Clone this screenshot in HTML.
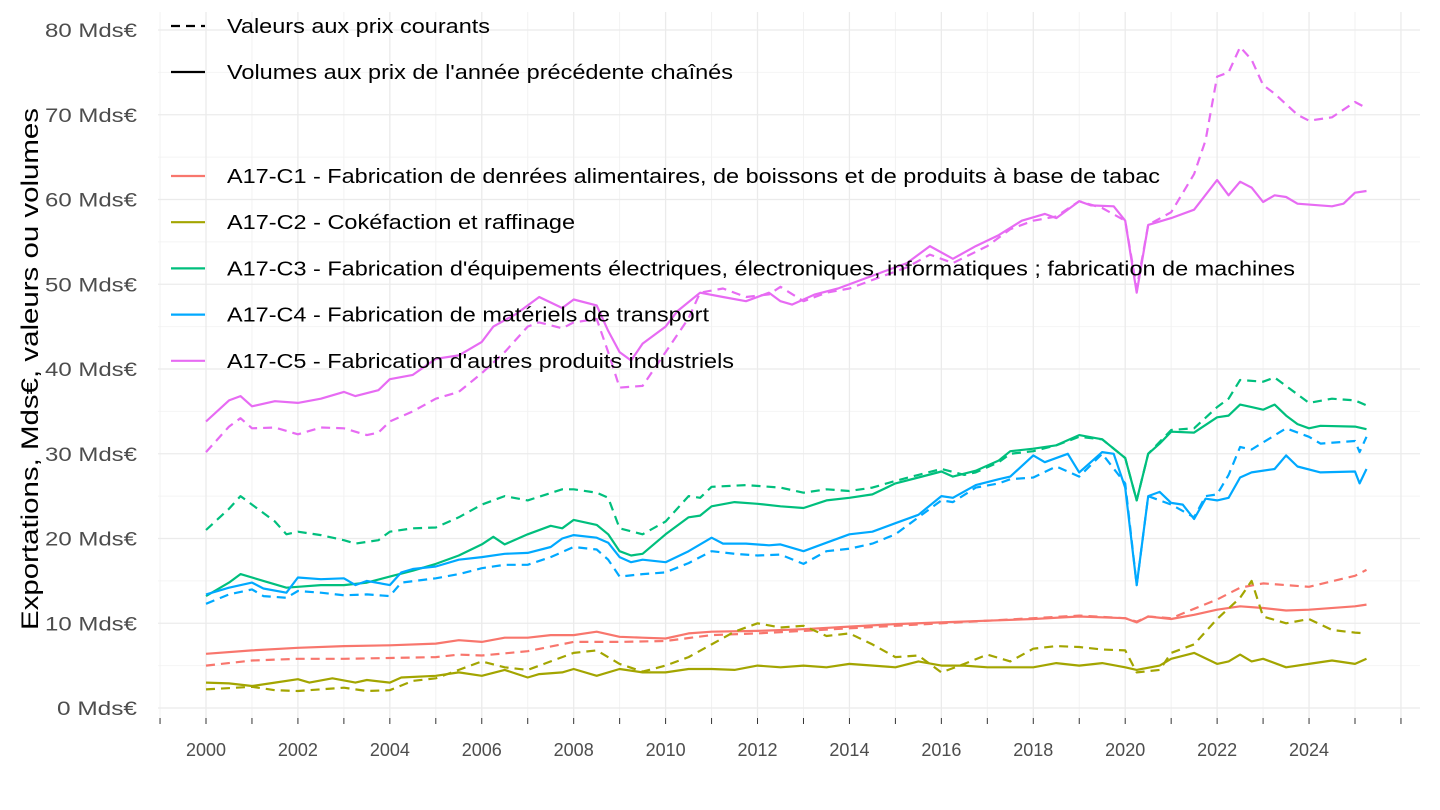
<!DOCTYPE html>
<html><head><meta charset="utf-8"><style>
html,body{margin:0;padding:0;background:#fff;}
svg{display:block;font-family:"Liberation Sans",sans-serif;}
</style></head><body>
<svg id="s" width="1440" height="810" xmlns="http://www.w3.org/2000/svg"></svg>
<script>
const s=document.getElementById('s');
const X=y=>206+(y-2000)*45.96, Y=v=>708-v*8.475;
let h='';
for(let v=5;v<=75;v+=10) h+=`<line x1="158" x2="1420" y1="${Y(v)}" y2="${Y(v)}" stroke="#f4f4f4" stroke-width="1"/>`;
for(let y=1999;y<=2026;y++){const x=X(y);if(x<158||x>1420)continue;h+=`<line x1="${x}" x2="${x}" y1="12" y2="718" stroke="${y%2==0?'#ebebeb':'#f2f2f2'}" stroke-width="${y%2==0?1.3:1}"/>`;}
for(let v=0;v<=80;v+=10) h+=`<line x1="158" x2="1420" y1="${Y(v)}" y2="${Y(v)}" stroke="#ebebeb" stroke-width="1.3"/>`;
for(let y=1999;y<=2026;y++){const x=X(y);if(x<158||x>1420)continue;h+=`<line x1="${x}" x2="${x}" y1="718" y2="724" stroke="#333" stroke-width="1"/>`;}
for(let v=0;v<=80;v+=10) h+=`<text x="137" y="${Y(v)+7}" text-anchor="end" font-size="19" fill="#4d4d4d" textLength="${v==0?80:92}" lengthAdjust="spacingAndGlyphs">${v} Mds€</text>`;
for(let y=2000;y<=2024;y+=2) h+=`<text x="${X(y)}" y="756" text-anchor="middle" font-size="18" fill="#4d4d4d">${y}</text>`;
h+=`<text transform="translate(38,369) rotate(-90)" text-anchor="middle" font-size="24" fill="#000" textLength="522" lengthAdjust="spacingAndGlyphs">Exportations, Mds€, valeurs ou volumes</text>`;
const P=(d,c,dash)=>{const a=[];for(let i=0;i<d.length;i+=2)a.push(X(d[i]).toFixed(1)+','+Y(d[i+1]).toFixed(1));h+=`<polyline points="${a.join(' ')}" fill="none" stroke="${c}" stroke-width="2.2" ${dash?'stroke-dasharray="9,6"':''} stroke-linejoin="round"/>`;};
const C1='#F8766D',C2='#A3A500',C3='#00BF7D',C4='#00A9FF',C5='#E76BF3';
P([2000,5,2001,5.6,2002,5.8,2003,5.8,2004,5.9,2005,6,2005.5,6.3,2006,6.2,2007,6.7,2008,7.8,2009,7.8,2010,7.9,2011,8.6,2012,8.8,2013,9.1,2014,9.4,2015,9.7,2016,10,2017,10.3,2018,10.6,2019,10.9,2020,10.6,2020.25,10.2,2020.5,10.8,2021,10.6,2021.5,11.7,2022,12.8,2022.5,14.2,2023,14.7,2023.5,14.5,2024,14.3,2025,15.6,2025.25,16.3],C1,1);
P([2000,6.4,2001,6.8,2002,7.1,2003,7.3,2004,7.4,2005,7.6,2005.5,8,2006,7.8,2006.5,8.3,2007,8.3,2007.5,8.6,2008,8.6,2008.5,9,2009,8.4,2009.5,8.3,2010,8.2,2010.5,8.8,2011,9,2012,9.1,2013,9.3,2014,9.6,2015,9.9,2016,10.1,2017,10.3,2018,10.5,2019,10.8,2020,10.6,2020.25,10.1,2020.5,10.8,2021,10.5,2021.5,11,2022,11.6,2022.5,12,2023,11.8,2023.5,11.5,2024,11.6,2025,12,2025.25,12.2],C1,0);
P([2000,2.2,2001,2.5,2001.5,2.1,2002,2,2003,2.4,2003.5,2,2004,2.1,2004.5,3.2,2005,3.5,2005.5,4.5,2006,5.5,2006.5,4.8,2007,4.5,2007.5,5.5,2008,6.5,2008.5,6.8,2009,5.2,2009.5,4.3,2010,5,2010.5,6,2011,7.5,2011.5,9,2012,10,2012.5,9.5,2013,9.7,2013.5,8.5,2014,8.8,2014.5,7.5,2015,6,2015.5,6.2,2016,4.2,2016.5,5.2,2017,6.3,2017.5,5.5,2018,7,2018.5,7.3,2019,7.2,2019.5,6.9,2020,6.8,2020.25,4.2,2020.75,4.5,2021,6.5,2021.5,7.5,2022,10.5,2022.5,13,2022.75,15,2023,10.8,2023.5,10,2024,10.5,2024.5,9.2,2025,8.9,2025.25,8.8],C2,1);
P([2000,3,2000.5,2.9,2001,2.6,2001.5,3,2002,3.4,2002.25,3,2002.75,3.5,2003.25,3,2003.5,3.3,2004,3,2004.25,3.6,2005,3.8,2005.5,4.2,2006,3.8,2006.5,4.5,2007,3.6,2007.25,4,2007.75,4.2,2008,4.6,2008.5,3.8,2009,4.6,2009.5,4.2,2010,4.2,2010.5,4.6,2011,4.6,2011.5,4.5,2012,5,2012.5,4.8,2013,5,2013.5,4.8,2014,5.2,2015,4.8,2015.5,5.5,2016,5,2016.5,5,2017,4.8,2018,4.8,2018.5,5.3,2019,5,2019.5,5.3,2020,4.8,2020.25,4.5,2020.75,5,2021,5.8,2021.5,6.5,2022,5.2,2022.25,5.5,2022.5,6.3,2022.75,5.5,2023,5.8,2023.5,4.8,2024,5.2,2024.5,5.6,2025,5.2,2025.25,5.8],C2,0);
P([2000,21,2000.5,23.5,2000.75,25,2001,24,2001.5,22,2001.75,20.5,2002,20.8,2002.5,20.4,2003,19.8,2003.25,19.4,2003.75,19.8,2004,20.8,2004.5,21.2,2005,21.3,2005.5,22.5,2006,24,2006.5,25,2007,24.5,2007.75,25.8,2008,25.8,2008.5,25.4,2008.75,24.8,2009,21.2,2009.5,20.5,2010,22,2010.5,25,2010.75,24.8,2011,26.1,2011.75,26.3,2012.5,26,2013,25.4,2013.5,25.8,2014,25.6,2014.5,26,2015,26.8,2015.5,27.5,2016,28.2,2016.5,27.5,2016.75,27.8,2017.25,29,2017.5,30,2018,30.3,2018.5,31,2019,32,2019.5,31.7,2020,29.5,2020.25,24.5,2020.5,30,2021,32.8,2021.5,33,2022,35.5,2022.25,36.5,2022.5,38.7,2023,38.5,2023.25,39,2023.75,37,2024,36,2024.5,36.5,2025,36.3,2025.25,35.7],C3,1);
P([2000,13.2,2000.5,14.8,2000.75,15.8,2001.25,15,2001.75,14.2,2002,14.3,2002.5,14.5,2003,14.5,2003.5,14.8,2004,15.5,2004.5,16.2,2005,17,2005.5,18,2006,19.3,2006.25,20.2,2006.5,19.3,2007,20.5,2007.5,21.5,2007.75,21.2,2008,22.2,2008.5,21.6,2008.75,20.5,2009,18.5,2009.25,18,2009.5,18.2,2010,20.5,2010.5,22.5,2010.75,22.7,2011,23.8,2011.5,24.3,2012,24.1,2012.5,23.8,2013,23.6,2013.5,24.5,2014,24.8,2014.5,25.2,2015,26.5,2015.5,27.2,2016,27.9,2016.25,27.3,2016.75,28,2017.25,29.2,2017.5,30.3,2018,30.6,2018.5,31,2019,32.2,2019.5,31.7,2020,29.5,2020.25,24.5,2020.5,30,2020.75,31.2,2021,32.6,2021.5,32.5,2022,34.3,2022.25,34.5,2022.5,35.8,2022.75,35.5,2023,35.2,2023.25,35.8,2023.5,34.5,2023.75,33.5,2024,33,2024.25,33.3,2025,33.2,2025.25,32.9],C3,0);
P([2000,12.3,2000.5,13.4,2001,14,2001.25,13.2,2001.75,13,2002,13.8,2002.5,13.6,2003,13.3,2003.5,13.4,2004,13.2,2004.25,14.8,2005,15.3,2005.5,15.8,2006,16.5,2006.5,16.9,2007,16.9,2007.5,17.8,2008,19,2008.5,18.7,2008.75,17.5,2009,15.5,2009.5,15.8,2010,16,2010.5,17.1,2011,18.5,2011.5,18.2,2012,18,2012.5,18.1,2013,17,2013.5,18.5,2014,18.8,2014.5,19.4,2015,20.5,2015.5,22.5,2016,24.5,2016.25,24.3,2016.75,26,2017.25,26.5,2017.5,27,2018,27.2,2018.5,28.5,2019,27.3,2019.5,30,2020,26.5,2020.25,14.5,2020.5,25,2021,24,2021.5,22.5,2021.75,25,2022,25.2,2022.25,27.5,2022.5,30.8,2022.75,30.5,2023.5,33,2024,32,2024.25,31.2,2025,31.5,2025.1,30.2,2025.25,32],C4,1);
P([2000,13.4,2000.5,14.2,2001,14.8,2001.25,14.1,2001.75,13.6,2002,15.4,2002.5,15.2,2003,15.3,2003.25,14.5,2003.5,15,2004,14.5,2004.25,16,2004.5,16.4,2005,16.7,2005.5,17.5,2006,17.8,2006.5,18.2,2007,18.3,2007.5,19,2007.75,20,2008,20.4,2008.5,20.1,2008.75,19.5,2009,17.8,2009.25,17.2,2009.5,17.5,2010,17.2,2010.5,18.5,2011,20.1,2011.25,19.4,2011.75,19.4,2012.25,19.2,2012.5,19.3,2013,18.5,2013.5,19.5,2014,20.5,2014.5,20.8,2015,21.8,2015.5,22.8,2016,25,2016.25,24.8,2016.75,26.3,2017.25,27,2017.5,27.3,2018,29.8,2018.25,29,2018.75,30,2019,27.8,2019.5,30.2,2019.75,30,2020,26,2020.25,14.5,2020.5,25,2020.75,25.5,2021,24.2,2021.25,24,2021.5,22.3,2021.75,24.7,2022,24.5,2022.25,24.8,2022.5,27.2,2022.75,27.8,2023.25,28.2,2023.5,29.8,2023.75,28.5,2024.25,27.8,2025,27.9,2025.1,26.5,2025.25,28.2],C4,0);
P([2000,30.2,2000.5,33.2,2000.75,34.2,2001,33,2001.5,33.1,2002,32.3,2002.5,33.1,2003,33,2003.5,32.2,2003.75,32.5,2004,33.8,2004.5,35,2005,36.5,2005.5,37.3,2006,39.5,2006.5,42,2007,45,2007.25,45.5,2007.75,44.8,2008,45.5,2008.5,45.9,2008.75,42,2009,37.8,2009.5,38,2010,42,2010.5,46,2010.75,49,2011.25,49.5,2011.75,48.5,2012.25,48.8,2012.5,49.7,2013,48,2013.5,49,2014,49.5,2014.5,50.5,2015.25,52,2015.75,53.5,2016.25,52.5,2017,54.5,2017.5,56.5,2018,57.5,2018.5,58,2019,59.8,2019.5,59,2020,57.5,2020.25,49.5,2020.5,57,2021,58.5,2021.5,63,2021.75,67,2022,74.5,2022.25,75,2022.5,78,2022.75,76.5,2023,73.5,2023.25,72.5,2023.75,70,2024,69.3,2024.5,69.7,2025,71.5,2025.25,70.8],C5,1);
P([2000,33.8,2000.5,36.3,2000.75,36.8,2001,35.6,2001.5,36.2,2002,36,2002.5,36.5,2003,37.3,2003.25,36.8,2003.75,37.5,2004,38.8,2004.5,39.3,2005,41.2,2005.5,41.6,2006,43.2,2006.25,45,2006.75,46.5,2007.25,48.5,2007.75,47.2,2008,48.2,2008.5,47.5,2008.75,44.5,2009,42,2009.25,41,2009.5,43,2010,45,2010.25,46.8,2010.75,49,2011.25,48.5,2011.75,48,2012.25,49,2012.5,48,2012.75,47.6,2013.25,48.8,2013.75,49.5,2014.25,50.5,2014.75,51.5,2015.25,52.5,2015.75,54.5,2016.25,53,2016.75,54.5,2017.25,55.8,2017.75,57.5,2018.25,58.3,2018.5,57.8,2019,59.8,2019.25,59.3,2019.75,59.2,2020,57.5,2020.25,49,2020.5,57,2021,57.8,2021.5,58.8,2022,62.3,2022.25,60.5,2022.5,62.1,2022.75,61.4,2023,59.7,2023.25,60.5,2023.5,60.3,2023.75,59.5,2024.5,59.2,2024.75,59.5,2025,60.8,2025.25,61],C5,0);
const T=(x,y,t,w)=>`<text x="${x}" y="${y}" font-size="20" textLength="${w}" lengthAdjust="spacingAndGlyphs">${t}</text>`;
h+=`<line x1="171" x2="205" y1="26" y2="26" stroke="#000" stroke-width="2.2" stroke-dasharray="9,6"/>`+T(227,33,"Valeurs aux prix courants",263);
h+=`<line x1="171" x2="205" y1="72" y2="72" stroke="#000" stroke-width="2.2"/>`+T(227,79,"Volumes aux prix de l'année précédente chaînés",506);
const L=[[C1,"A17-C1 - Fabrication de denrées alimentaires, de boissons et de produits à base de tabac",933],[C2,"A17-C2 - Cokéfaction et raffinage",348],[C3,"A17-C3 - Fabrication d'équipements électriques, électroniques, informatiques ; fabrication de machines",1068],[C4,"A17-C4 - Fabrication de matériels de transport",482],[C5,"A17-C5 - Fabrication d'autres produits industriels",507]];
L.forEach((l,i)=>{const y=176+i*46.2;h+=`<line x1="171" x2="205" y1="${y}" y2="${y}" stroke="${l[0]}" stroke-width="2.2"/>`+T(227,y+7,l[1],l[2]);});
s.innerHTML=h;
</script>
</body></html>
